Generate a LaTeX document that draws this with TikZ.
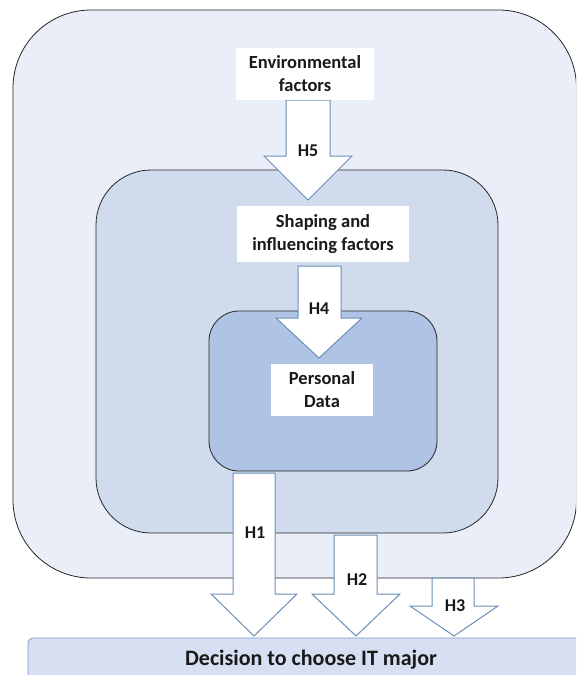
\documentclass[tikz,border=0pt]{standalone}
\usepackage{fontspec}
\setmainfont{Carlito}
\begin{document}
\begin{tikzpicture}[x=1pt,y=-1pt,
  zone/.style={draw=black!85,line width=0.8pt},
  lbl/.style={fill=white,inner sep=0pt,align=center,font=\bfseries\fontsize{18.5}{23}\selectfont,text=black!90},
  blockarrow/.style={draw=arrowblue,fill=white,line width=1pt,line join=miter},
  hlabel/.style={font=\bfseries\fontsize{18}{20}\selectfont,text=black!90,inner sep=1pt}]
\definecolor{outerfill}{HTML}{E9EEF8}
\definecolor{midfill}{HTML}{D0DCEE}
\definecolor{innerfill}{HTML}{AFC3E4}
\definecolor{decfill}{HTML}{D6E0F2}
\definecolor{decborder}{HTML}{7B9BC6}
\definecolor{arrowblue}{HTML}{6C8FB8}
\useasboundingbox (0,0) rectangle (576,675);
\clip (0,0) rectangle (576,675);
% zones
\draw[zone,fill=outerfill,rounded corners=78pt] (13,10) rectangle (576.5,578);
\draw[zone,fill=midfill,rounded corners=55pt] (96,170) rectangle (498,533);
\draw[zone,fill=innerfill,rounded corners=30pt] (209,311) rectangle (437,471);
% decision box
\draw[draw=decborder,fill=decfill,line width=0.8pt,rounded corners=5pt] (28,638) rectangle (600,700);
\node[font=\bfseries\fontsize{22}{24}\selectfont,text=black!90] (dec) at (311,660) {Decision to choose IT major};
% arrows
\draw[blockarrow] (286,100) -- (286,156) -- (264,156) -- (308,200) -- (352,156) -- (330,156) -- (330,100) -- cycle;
\draw[blockarrow] (298,266) -- (298,318) -- (276,318) -- (319,358) -- (362,318) -- (341,318) -- (341,266) -- cycle;
\draw[blockarrow] (233,473) -- (233,594) -- (211,594) -- (254,636) -- (297,594) -- (275,594) -- (275,473) -- cycle;
\draw[blockarrow] (334,535) -- (334,594) -- (312,594) -- (356,636) -- (400,594) -- (377,594) -- (377,535) -- cycle;
\draw[blockarrow] (432,578) -- (432,606) -- (410,606) -- (454,636) -- (498,606) -- (474,606) -- (474,578) -- cycle;
\node[hlabel] (h5) at (308,151) {H5};
\node[hlabel] (h4) at (319,309) {H4};
\node[hlabel] (h1) at (255,533) {H1};
\node[hlabel] (h2) at (357,580) {H2};
\node[hlabel] (h3) at (455,606) {H3};
% label boxes
\node[lbl,minimum width=138pt,minimum height=52pt] (env) at (305,74) {Environmental\\factors};
\node[lbl,minimum width=172pt,minimum height=56pt] (shape) at (323,234) {Shaping and\\influencing factors};
\node[lbl,minimum width=102pt,minimum height=52pt] (pers) at (322,390) {Personal\\Data};
\end{tikzpicture}
\end{document}
